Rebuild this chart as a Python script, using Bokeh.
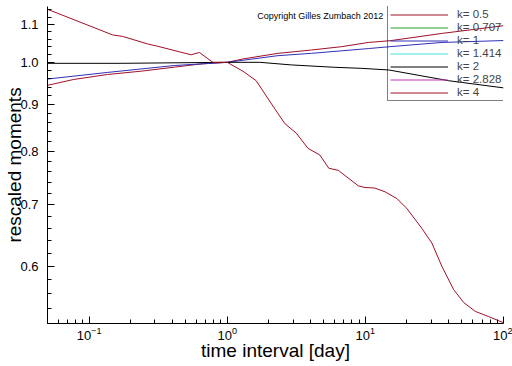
from bokeh.plotting import figure
from bokeh.models import Range1d, FixedTicker, PrintfTickFormatter, LogTickFormatter, Legend, LegendItem, Label
from bokeh.embed import file_html
from bokeh.resources import INLINE

# ---- data ----
x_k05 = [0.05, 0.0774, 0.136, 0.237, 0.414, 0.647, 1.0, 1.30, 2.33, 4.07, 6.73, 10.5, 15.1, 35.8, 100]
y_k05 = [0.944, 0.958, 0.970, 0.978, 0.988, 0.996, 1.0, 1.0085, 1.0227, 1.0313, 1.040, 1.051, 1.0556, 1.075, 1.096]

x_k1 = [0.05, 0.136, 0.414, 1.0, 2.33, 4.07, 10.5, 15.1, 35.8, 100]
y_k1 = [0.959, 0.975, 0.992, 1.0, 1.0168, 1.0227, 1.035, 1.040, 1.051, 1.056]

x_k2 = [0.05, 0.17, 1.0, 1.72, 2.92, 6.01, 9.4, 14.8, 40.1, 100]
y_k2 = [0.9975, 0.9975, 1.0, 1.0, 0.9935, 0.9876, 0.985, 0.981, 0.955, 0.938]

x_k4 = [0.05, 0.148, 0.175, 0.266, 0.314, 0.548, 0.629, 0.787, 1.0, 1.30, 1.62, 2.21, 2.61, 3.17,
        3.85, 4.68, 5.44, 6.37, 8.90, 9.93, 11.7, 13.9, 16.9, 19.9, 25.6, 30.3, 35.8, 43.6, 51.5,
        62.5, 78.2, 100]
y_k4 = [1.142, 1.071, 1.067, 1.047, 1.041, 1.019, 1.025, 1.0, 1.0, 0.978, 0.955, 0.890, 0.858, 0.837,
        0.806, 0.793, 0.767, 0.763, 0.734, 0.731, 0.730, 0.723, 0.711, 0.694, 0.660, 0.636, 0.600, 0.566,
        0.548, 0.536, 0.529, 0.521]

# series listed in the legend but not visible in the plot
x_none = [float("nan")]
y_none = [float("nan")]

series_labels = ["k= 0.5", "k= 0.707", "k= 1", "k= 1.414", "k= 2", "k= 2.828", "k= 4"]
series_colors = ["#a01028", "#20a020", "#3030b8", "#40e0e0", "#000000", "#c030c0", "#a01028"]

x_major = [0.1, 1, 10, 100]
x_minor = [0.05, 0.06, 0.07, 0.08, 0.09, 0.2, 0.3, 0.4, 0.5, 0.6, 0.7, 0.8, 0.9,
           2, 3, 4, 5, 6, 7, 8, 9, 20, 30, 40, 50, 60, 70, 80, 90]
y_major = [0.6, 0.7, 0.8, 0.9, 1.0, 1.1]
y_minor = [0.52, 0.54, 0.56, 0.58, 0.62, 0.64, 0.66, 0.68, 0.72, 0.74, 0.76, 0.78,
           0.82, 0.84, 0.86, 0.88, 0.92, 0.94, 0.96, 0.98, 1.02, 1.04, 1.06, 1.08, 1.12, 1.14]

FONT = "Liberation Sans"

p = figure(width=512, height=366, x_axis_type="log", y_axis_type="log",
           x_range=Range1d(0.05, 100), y_range=Range1d(0.52, 1.15),
           output_backend="svg", toolbar_location=None,
           min_border_left=47, min_border_right=9, min_border_top=6, min_border_bottom=43)
p.outline_line_color = None
p.grid.visible = False
p.background_fill_color = "white"
p.border_fill_color = "white"

xs = [x_k05, x_none, x_k1, x_none, x_k2, x_none, x_k4]
ys = [y_k05, y_none, y_k1, y_none, y_k2, y_none, y_k4]
items = []
for xv, yv, lab, col in zip(xs, ys, series_labels, series_colors):
    r = p.line(xv, yv, line_color=col, line_width=1)
    items.append(LegendItem(label=lab, renderers=[r]))

legend = Legend(items=items, location=(340, 222),
                label_text_font=FONT, label_text_font_size="11.5px",
                glyph_width=58, glyph_height=11, label_height=11, label_standoff=9,
                spacing=1, padding=2, margin=0,
                border_line_color="black", border_line_width=1,
                background_fill_alpha=0.0)
p.add_layout(legend, "center")

xa = p.xaxis[0]
xa.ticker = FixedTicker(ticks=x_major, minor_ticks=x_minor)
xa.formatter = LogTickFormatter(min_exponent=0)
xa.axis_label = "time interval [day]"
ya = p.yaxis[0]
ya.ticker = FixedTicker(ticks=y_major, minor_ticks=y_minor)
ya.formatter = PrintfTickFormatter(format="%.1f")
ya.axis_label = "rescaled moments"

for ax in (xa, ya):
    ax.axis_line_color = "black"
    ax.major_tick_in = 7
    ax.major_tick_out = 0
    ax.minor_tick_in = 4
    ax.minor_tick_out = 0
    ax.major_tick_line_color = "black"
    ax.minor_tick_line_color = "black"
    ax.major_label_text_font = FONT
    ax.major_label_text_font_size = "13px"
    ax.major_label_text_color = "black"
    ax.axis_label_text_font = FONT
    ax.axis_label_text_font_size = "19px"
    ax.axis_label_text_font_style = "normal"
    ax.axis_label_text_color = "black"

xa.major_label_standoff = 3
xa.axis_label_standoff = -3
ya.major_label_standoff = 9
ya.axis_label_standoff = -8

copyright_label = Label(x=1.65, y=1.108, text="Copyright Gilles Zumbach 2012",
                        text_font=FONT, text_font_size="9px", text_color="black",
                        text_baseline="bottom")
p.add_layout(copyright_label)

open("out.html", "w").write(file_html(p, INLINE))
